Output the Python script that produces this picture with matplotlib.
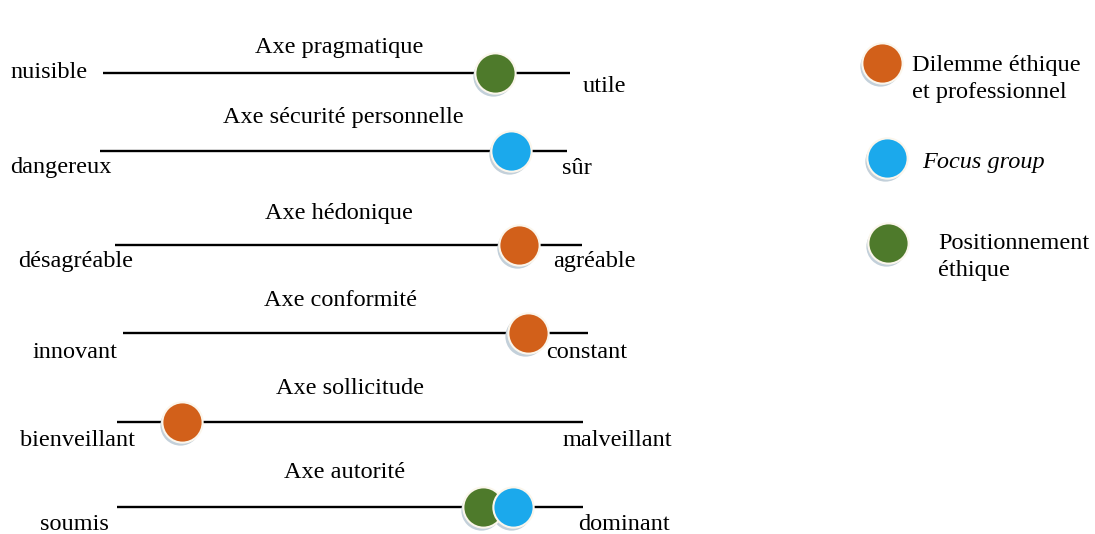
import numpy as np
import matplotlib
matplotlib.use('Agg')
from matplotlib import pyplot as plt

plt.rcParams['font.family'] = ['Liberation Serif', 'DejaVu Serif']

# axes of the semantic scales
axe_names = ['Axe pragmatique', 'Axe sécurité personnelle', 'Axe hédonique',
             'Axe conformité', 'Axe sollicitude', 'Axe autorité']
left_poles = ['nuisible', 'dangereux', 'désagréable', 'innovant', 'bienveillant', 'soumis']
right_poles = ['utile', 'sûr', 'agréable', 'constant', 'malveillant', 'dominant']

# position of each source on the scale (0 = left pole, 1 = right pole)
dilemme = [np.nan, np.nan, 0.865, 0.87, 0.14, np.nan]
focus = [np.nan, 0.88, np.nan, np.nan, np.nan, 0.85]
positionnement = [0.84, np.nan, np.nan, np.nan, np.nan, 0.785]

series_names = ['Dilemme éthique\net professionnel', 'Focus group', 'Positionnement\néthique']
series_colors = ['#d2601a', '#1ba9ec', '#4e7a2b']

W, H = 1095, 534
fig = plt.figure(figsize=(W / 100, H / 100), dpi=100)
fig.patch.set_facecolor('white')

# layout in pixels: line start, line end, line y
line_x0 = [103, 100, 115, 123, 117, 117]
line_x1 = [570, 567, 582, 588, 583, 583]
line_y = [73, 151, 245, 333, 422, 507]
title_pos = [(339, 48), (343, 118), (339, 213), (340, 300), (350, 388), (345, 473)]
left_pos = [(10, 72), (10, 167), (18, 262), (33, 352), (20, 440), (40, 525)]
right_pos = [(583, 86), (562, 168), (553, 262), (546, 353), (563, 440), (578, 525)]

fs = 17.5
dot_s = 29 ** 2


def dot(ax, x, y, color):
    # light shadow + pale rim like the original bubbles
    ax.scatter([x], [y], s=dot_s, color='#c3d0da', transform=ax.transData + matplotlib.transforms.ScaledTranslation(-1.5 / 72, -2.5 / 72, fig.dpi_scale_trans),
               zorder=3, clip_on=False, linewidths=0)
    ax.scatter([x], [y], s=dot_s, color=color, edgecolors='#fbf6ec', linewidths=1.5, zorder=4, clip_on=False)


for i in range(len(axe_names)):
    x0, x1, y = line_x0[i], line_x1[i], line_y[i]
    ax = fig.add_axes([x0 / W, 1 - (y + 20) / H, (x1 - x0) / W, 40 / H])
    ax.set_xlim(0, 1)
    ax.set_ylim(-1, 1)
    ax.axis('off')
    ax.plot([0, 1], [0, 0], color='black', lw=1.7, zorder=1)
    for vals, c in [(positionnement, series_colors[2]), (dilemme, series_colors[0]), (focus, series_colors[1])]:
        if not np.isnan(vals[i]):
            dot(ax, vals[i], 0, c)

    tx, ty = title_pos[i]
    fig.text(tx / W, 1 - ty / H, axe_names[i], ha='center', va='center', fontsize=fs)
    lx, ly = left_pos[i]
    fig.text(lx / W, 1 - ly / H, left_poles[i], ha='left', va='center', fontsize=fs)
    rx, ry = right_pos[i]
    fig.text(rx / W, 1 - ry / H, right_poles[i], ha='left', va='center', fontsize=fs)

# legend
leg_dot = [(882, 63), (887, 158), (888, 243)]
leg_txt = [(912, 79), (922, 162), (938, 257)]
lax = fig.add_axes([0, 0, 1, 1])
lax.set_xlim(0, W)
lax.set_ylim(H, 0)
lax.axis('off')
lax.patch.set_alpha(0)
for k in range(3):
    dot(lax, leg_dot[k][0], leg_dot[k][1], series_colors[k])
    fig.text(leg_txt[k][0] / W, 1 - leg_txt[k][1] / H, series_names[k], ha='left', va='center',
             fontsize=fs, linespacing=1.35, style='italic' if k == 1 else 'normal')

plt.savefig('out.png', dpi=100, facecolor='white')
